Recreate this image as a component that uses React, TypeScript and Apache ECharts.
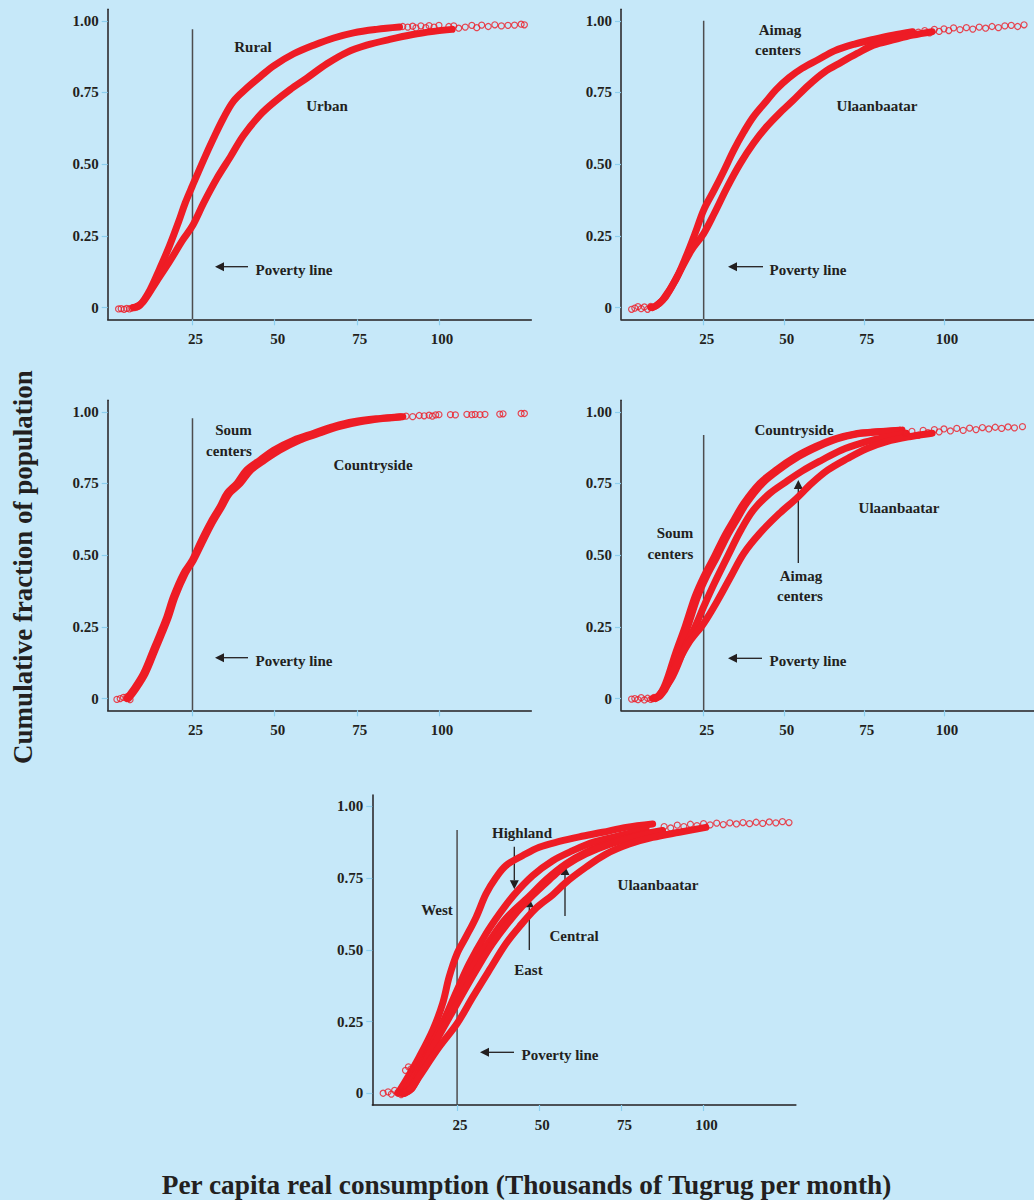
import React, { useEffect, useRef } from "react";
import * as echarts from "echarts";

// ---------- data ----------
const X_TICKS = [25, 50, 75, 100];
const Y_TICKS = [0, 0.25, 0.5, 0.75, 1];
const POVERTY_LINE = 25;
const POVERTY_TOPS = [0.97, 1.0, 0.977, 0.919, 0.918];

// Panel 1: Rural vs Urban
const P1_RURAL_X = [7, 9, 12, 15, 18, 20.8, 22.8, 25, 28.4, 31.4, 34.4, 37.5, 41.5, 45.6, 49.7, 55.8, 61.9, 68, 74, 81, 88];
const P1_RURAL_Y = [0, 0.008, 0.06, 0.135, 0.215, 0.3, 0.365, 0.425, 0.515, 0.59, 0.66, 0.72, 0.765, 0.805, 0.843, 0.885, 0.915, 0.94, 0.958, 0.97, 0.978];
const P1_URBAN_X = [8, 10, 14, 18, 22, 25, 28.4, 32.4, 36.5, 40.5, 45.6, 49.7, 54.7, 59.8, 65.9, 72, 78, 85, 92, 98.4, 104];
const P1_URBAN_Y = [0.003, 0.02, 0.09, 0.16, 0.235, 0.285, 0.365, 0.45, 0.525, 0.6, 0.672, 0.715, 0.76, 0.8, 0.85, 0.89, 0.915, 0.935, 0.952, 0.963, 0.97];
const P1_TAIL_X = [2.5, 3.3, 4.2, 5, 5.8, 6.5, 7.3, 8, 89, 90.5, 92, 93, 94.5, 96, 97, 98.5, 100, 103, 104.5, 106, 108, 110, 111.5, 113, 115, 117, 119, 121, 123, 125, 126];
const P1_TAIL_Y = [-0.005, -0.004, -0.006, -0.003, -0.005, -0.002, 0, 0.002, 0.98, 0.978, 0.981, 0.975, 0.982, 0.976, 0.983, 0.978, 0.984, 0.98, 0.982, 0.974, 0.978, 0.984, 0.976, 0.985, 0.98, 0.986, 0.982, 0.984, 0.985, 0.988, 0.986];

// Panel 2: Aimag centers vs Ulaanbaatar
const P2_AIMAG_X = [8.5, 10, 12.1, 16.2, 19.2, 22.3, 25, 28.3, 31.4, 34.4, 37.5, 40.5, 44.6, 47.6, 51.7, 55.7, 60.8, 65.8, 71.9, 78, 84.1, 90.2];
const P2_AIMAG_Y = [0, 0.005, 0.025, 0.095, 0.17, 0.258, 0.34, 0.41, 0.479, 0.549, 0.612, 0.665, 0.72, 0.76, 0.802, 0.834, 0.865, 0.895, 0.918, 0.935, 0.95, 0.962];
const P2_UB_X = [9, 10, 13.1, 17.2, 21.2, 25, 28.3, 32.4, 36.4, 40.5, 44.6, 48.6, 52.7, 57.7, 62.8, 67.9, 72.9, 78, 84.1, 90.2, 96.3];
const P2_UB_Y = [0, 0.005, 0.037, 0.118, 0.2, 0.258, 0.328, 0.421, 0.502, 0.572, 0.63, 0.677, 0.72, 0.775, 0.822, 0.855, 0.886, 0.915, 0.933, 0.95, 0.962];
const P2_TAIL_X = [2.5, 3.5, 4.5, 5.5, 6.5, 7.5, 8.5, 92, 94, 95.5, 97, 98.5, 100, 101.5, 103, 105, 107, 109, 111, 113, 115, 117, 119, 121, 123, 125];
const P2_TAIL_Y = [-0.006, -0.002, 0.003, -0.004, 0.002, -0.006, 0.004, 0.96, 0.966, 0.958, 0.97, 0.963, 0.972, 0.966, 0.975, 0.969, 0.976, 0.971, 0.978, 0.974, 0.98, 0.976, 0.982, 0.984, 0.98, 0.986];

// Panel 3: Soum centers vs Countryside
const P3_SOUM_X = [5, 7, 10.1, 13.1, 15.2, 17.2, 19.2, 22.3, 25, 27.3, 30.4, 33.4, 35.5, 38.5, 41.5, 45.6, 49.7, 55.8, 61.9, 67.9, 74, 82.2, 88.3];
const P3_SOUM_Y = [0, 0.03, 0.087, 0.169, 0.227, 0.285, 0.355, 0.436, 0.483, 0.541, 0.611, 0.669, 0.715, 0.75, 0.797, 0.832, 0.866, 0.901, 0.925, 0.948, 0.965, 0.977, 0.983];
const P3_COUNTRY_X = [5.5, 7.5, 10.6, 13.6, 15.7, 17.7, 19.7, 22.8, 25.3, 27.8, 30.9, 33.9, 36.2, 39.5, 42.8, 47, 51.5, 57.5, 63.5, 69.5, 76, 83.5, 89];
const P3_COUNTRY_Y = [0, 0.03, 0.087, 0.169, 0.227, 0.285, 0.355, 0.436, 0.483, 0.541, 0.611, 0.669, 0.715, 0.75, 0.797, 0.832, 0.866, 0.901, 0.925, 0.948, 0.965, 0.977, 0.983];
const P3_TAIL_X = [2, 3, 4, 5, 6, 90, 92, 94, 95.5, 97, 98, 99, 100, 103.5, 105, 108.5, 110, 111, 112.5, 114, 118.5, 119.5, 125, 126];
const P3_TAIL_Y = [-0.003, 0, 0.004, 0.006, -0.004, 0.985, 0.983, 0.987, 0.986, 0.988, 0.985, 0.989, 0.99, 0.99, 0.989, 0.991, 0.99, 0.991, 0.99, 0.991, 0.992, 0.993, 0.994, 0.994];

// Panel 4: Countryside, Soum centers, Aimag centers, Ulaanbaatar
const P4_COUNTRY_X = [9, 11, 13.1, 16.2, 19.2, 22.3, 25, 28.3, 31.4, 34.4, 37.5, 42.5, 47.6, 53.7, 59.8, 65.8, 71.9, 79, 86.1];
const P4_COUNTRY_Y = [0, 0.01, 0.052, 0.157, 0.25, 0.355, 0.424, 0.494, 0.564, 0.622, 0.68, 0.75, 0.797, 0.843, 0.878, 0.905, 0.922, 0.93, 0.936];
const P4_SOUM_X = [9.5, 11.5, 13.9, 17, 20, 23.1, 25.8, 29.1, 32.2, 35.2, 38.3, 43.3, 48.4, 54.5, 60.6, 66.6, 72.7, 79.8, 86.9];
const P4_SOUM_Y = [0, 0.01, 0.052, 0.157, 0.25, 0.355, 0.424, 0.494, 0.564, 0.622, 0.68, 0.75, 0.797, 0.843, 0.878, 0.905, 0.922, 0.93, 0.936];
const P4_AIMAG_X = [9.5, 11, 15.2, 19.2, 22.3, 25, 28.3, 32.4, 36.5, 40.5, 45.6, 50.6, 55.7, 61.8, 67.9, 74, 80.1, 88.2];
const P4_AIMAG_Y = [0, 0.01, 0.075, 0.18, 0.25, 0.32, 0.401, 0.494, 0.585, 0.657, 0.715, 0.755, 0.793, 0.831, 0.866, 0.89, 0.907, 0.925];
const P4_UB_X = [10, 12, 16.2, 20.2, 25, 29.4, 33.4, 37.5, 42.5, 48.6, 53.7, 58.7, 63.8, 69.9, 76, 82.1, 89.2, 96.3];
const P4_UB_Y = [0, 0.02, 0.11, 0.192, 0.262, 0.343, 0.424, 0.506, 0.576, 0.645, 0.695, 0.75, 0.797, 0.837, 0.872, 0.896, 0.913, 0.925];
const P4_TAIL_X = [2.5, 3.5, 4.5, 5.5, 6.5, 7.5, 8.5, 9.5, 88, 90, 92, 93.5, 95, 97, 98.5, 100, 102, 104, 106, 108, 110, 112, 114, 116, 118, 120, 122, 124.5];
const P4_TAIL_Y = [-0.002, 0, -0.004, 0.003, -0.005, 0.001, -0.003, 0.004, 0.925, 0.932, 0.918, 0.935, 0.927, 0.938, 0.93, 0.94, 0.933, 0.942, 0.935, 0.943, 0.938, 0.945, 0.94, 0.946, 0.942, 0.947, 0.944, 0.948];

// Panel 5: West, Highland, East, Central, Ulaanbaatar
const P5_WEST_X = [7, 9.5, 13.5, 17.6, 20.6, 22.6, 25, 27.7, 30.8, 33.8, 36.9, 39.9, 45, 50, 56.1, 62.2, 69.3, 76.4, 84.5];
const P5_WEST_Y = [0, 0.046, 0.127, 0.22, 0.313, 0.406, 0.487, 0.545, 0.614, 0.695, 0.753, 0.794, 0.829, 0.858, 0.878, 0.894, 0.91, 0.927, 0.939];
const P5_HIGHLAND_X = [8, 10, 13.5, 19.6, 25, 28.7, 33.8, 37.9, 42.2, 48, 54.1, 60.2, 66.3, 74.4, 82.5];
const P5_HIGHLAND_Y = [0, 0.02, 0.093, 0.22, 0.359, 0.452, 0.556, 0.626, 0.69, 0.759, 0.811, 0.846, 0.875, 0.898, 0.921];
const P5_EAST_X = [8.5, 11, 15.6, 21.6, 25, 29.8, 34.8, 39.9, 46.8, 52.1, 58.1, 64.2, 71.3, 79.4, 87.5];
const P5_EAST_Y = [0, 0.02, 0.127, 0.267, 0.336, 0.44, 0.53, 0.61, 0.685, 0.745, 0.8, 0.84, 0.872, 0.898, 0.916];
const P5_CENTRAL_X = [9, 11.5, 16.6, 25, 30.8, 35.8, 41.9, 48, 54.1, 58.1, 64.2, 71.3, 79.4, 87.5];
const P5_CENTRAL_Y = [0, 0.02, 0.139, 0.313, 0.429, 0.522, 0.614, 0.69, 0.755, 0.795, 0.835, 0.868, 0.895, 0.914];
const P5_UB_X = [9, 11, 13.5, 19.6, 25, 29.8, 34.8, 39.9, 43.9, 49, 54.1, 58.1, 64.2, 70.3, 77.4, 84.5, 92.6, 100.7];
const P5_UB_Y = [0, 0.015, 0.058, 0.162, 0.243, 0.336, 0.429, 0.522, 0.58, 0.645, 0.692, 0.735, 0.788, 0.834, 0.869, 0.892, 0.91, 0.927];
const P5_TAIL_X = [2.5, 4, 5, 6, 7, 8, 9, 9.3, 10.2, 11, 88, 90, 92, 94, 96, 98, 100, 102, 104, 106, 108, 110, 112, 114, 116, 118, 120, 122, 124, 126];
const P5_TAIL_Y = [0, 0.005, -0.003, 0.01, 0.003, -0.005, 0.005, 0.08, 0.092, 0.085, 0.93, 0.925, 0.935, 0.93, 0.938, 0.933, 0.94, 0.936, 0.942, 0.937, 0.943, 0.939, 0.944, 0.94, 0.945, 0.941, 0.946, 0.943, 0.947, 0.944];

const X_TITLE = "Per capita real consumption (Thousands of Tugrug per month)";
const Y_TITLE = "Cumulative fraction of population";

// ---------- styling / layout ----------
const BG = "#c6e8f9";
const RED = "#ee1c25";
const INK = "#231f20";
const TICK = "#8ccff0";
const FONT = '"Liberation Serif", "Times New Roman", serif';
const X_MIN = -0.8;
const X_MAX = 128.1;
const Y_MIN = -0.041;
const Y_MAX = 1.04;
const GRID_W = 423.6;
const GRID_H = 310;
const GRIDS = [
  { left: 107.7, top: 9.3 },
  { left: 621, top: 9.3 },
  { left: 107.7, top: 400.3 },
  { left: 621, top: 400.3 },
  { left: 372.3, top: 795 },
];

const zip = (xs: number[], ys: number[]) => xs.map((x, i) => [x, ys[i]]);

const band = (xs: number[], ys: number[], g: number) => ({
  type: "line",
  xAxisIndex: g,
  yAxisIndex: g,
  data: zip(xs, ys),
  showSymbol: false,
  smooth: 0.35,
  lineStyle: { color: RED, width: 7, cap: "round", join: "round" },
  silent: true,
  z: 3,
});

const dots = (xs: number[], ys: number[], g: number) => ({
  type: "scatter",
  xAxisIndex: g,
  yAxisIndex: g,
  data: zip(xs, ys),
  symbol: "circle",
  symbolSize: 6,
  itemStyle: { color: "rgba(0,0,0,0)", borderColor: RED, borderWidth: 1.2 },
  silent: true,
  z: 3,
});

const povertyLine = (g: number) => ({
  type: "line",
  xAxisIndex: g,
  yAxisIndex: g,
  data: [
    [POVERTY_LINE, Y_MIN],
    [POVERTY_LINE, POVERTY_TOPS[g]],
  ],
  showSymbol: false,
  lineStyle: { color: "#4d4d4f", width: 1.5 },
  silent: true,
  z: 2,
});

const textEl = (text: string, x: number, y: number, size = 15, rotation = 0) => ({
  type: "text",
  x,
  y,
  rotation,
  silent: true,
  style: {
    text,
    fill: INK,
    font: `bold ${size}px ${FONT}`,
    align: "center",
    verticalAlign: "middle",
    textAlign: "center",
    textVerticalAlign: "middle",
  },
});

const arrowEl = (x1: number, y1: number, x2: number, y2: number) => {
  const dx = x2 - x1;
  const dy = y2 - y1;
  const len = Math.hypot(dx, dy);
  const ux = dx / len;
  const uy = dy / len;
  const hl = 9;
  const hw = 4.5;
  const bx = x2 - ux * hl;
  const by = y2 - uy * hl;
  return [
    { type: "line", silent: true, shape: { x1, y1, x2: bx, y2: by }, style: { stroke: INK, lineWidth: 1.3 } },
    {
      type: "polygon",
      silent: true,
      shape: { points: [[x2, y2], [bx - uy * hw, by + ux * hw], [bx + uy * hw, by - ux * hw]] },
      style: { fill: INK },
    },
  ];
};

const LABELS: [string, number, number][] = [
  ["Rural", 253, 47],
  ["Urban", 327, 106],
  ["Poverty line", 294, 270],
  ["Aimag", 780, 30],
  ["centers", 778, 50],
  ["Ulaanbaatar", 877, 106],
  ["Poverty line", 808, 270],
  ["Soum", 233.5, 430],
  ["centers", 229, 451],
  ["Countryside", 373, 465],
  ["Poverty line", 294, 661],
  ["Countryside", 794, 430],
  ["Soum", 675, 533],
  ["centers", 670.5, 554],
  ["Ulaanbaatar", 899, 508],
  ["Aimag", 801, 576],
  ["centers", 800, 596],
  ["Poverty line", 808, 661],
  ["Highland", 522, 833],
  ["West", 437, 910],
  ["Ulaanbaatar", 658, 885],
  ["Central", 574, 936],
  ["East", 528.5, 970],
  ["Poverty line", 560, 1055],
];

const ARROWS: [number, number, number, number][] = [
  [248, 266.7, 215, 266.7],
  [763, 266.7, 728, 266.7],
  [248, 657.7, 215, 657.7],
  [762, 658.3, 728, 658.3],
  [798.3, 563, 798.3, 480],
  [514, 1052.3, 480, 1052.3],
  [514.3, 846.7, 514.3, 889.3],
  [529.3, 950, 529.3, 898.3],
  [565, 916, 565, 866],
];

function buildOption() {
  const labelStyle = { fontFamily: FONT, fontWeight: "bold", fontSize: 15, color: INK };
  const grid = GRIDS.map((g) => ({ left: g.left, top: g.top, width: GRID_W, height: GRID_H }));
  const xAxis = GRIDS.map((_, i) => ({
    gridIndex: i,
    type: "value",
    min: X_MIN,
    max: X_MAX,
    axisLine: { show: true, onZero: false, lineStyle: { color: INK, width: 1.5 } },
    axisTick: { show: true, customValues: X_TICKS, length: 6, lineStyle: { color: TICK, width: 1.2 } },
    axisLabel: { ...labelStyle, customValues: X_TICKS, margin: 12, padding: [0, 0, 0, 6] },
    splitLine: { show: false },
  }));
  const yAxis = GRIDS.map((_, i) => ({
    gridIndex: i,
    type: "value",
    min: Y_MIN,
    max: Y_MAX,
    axisLine: { show: true, onZero: false, lineStyle: { color: INK, width: 1.5 } },
    axisTick: { show: true, customValues: Y_TICKS, length: 6, lineStyle: { color: TICK, width: 1.2 } },
    axisLabel: {
      ...labelStyle,
      customValues: Y_TICKS,
      margin: 9,
      formatter: (v: number) => (v === 0 ? "0" : v.toFixed(2)),
    },
    splitLine: { show: false },
  }));

  const series: any[] = [
    ...[0, 1, 2, 3, 4].map(povertyLine),
    band(P1_RURAL_X, P1_RURAL_Y, 0),
    band(P1_URBAN_X, P1_URBAN_Y, 0),
    dots(P1_TAIL_X, P1_TAIL_Y, 0),
    band(P2_AIMAG_X, P2_AIMAG_Y, 1),
    band(P2_UB_X, P2_UB_Y, 1),
    dots(P2_TAIL_X, P2_TAIL_Y, 1),
    band(P3_SOUM_X, P3_SOUM_Y, 2),
    band(P3_COUNTRY_X, P3_COUNTRY_Y, 2),
    dots(P3_TAIL_X, P3_TAIL_Y, 2),
    band(P4_COUNTRY_X, P4_COUNTRY_Y, 3),
    band(P4_SOUM_X, P4_SOUM_Y, 3),
    band(P4_AIMAG_X, P4_AIMAG_Y, 3),
    band(P4_UB_X, P4_UB_Y, 3),
    dots(P4_TAIL_X, P4_TAIL_Y, 3),
    band(P5_WEST_X, P5_WEST_Y, 4),
    band(P5_HIGHLAND_X, P5_HIGHLAND_Y, 4),
    band(P5_EAST_X, P5_EAST_Y, 4),
    band(P5_CENTRAL_X, P5_CENTRAL_Y, 4),
    band(P5_UB_X, P5_UB_Y, 4),
    dots(P5_TAIL_X, P5_TAIL_Y, 4),
  ];

  const graphic: any[] = [
    ...LABELS.map(([t, x, y]) => textEl(t, x, y)),
    ...ARROWS.flatMap(([a, b, c, d]) => arrowEl(a, b, c, d)),
    textEl(X_TITLE, 526.5, 1185, 27.3),
    textEl(Y_TITLE, 23, 567, 27, Math.PI / 2),
  ];

  return {
    animation: false,
    backgroundColor: BG,
    grid,
    xAxis,
    yAxis,
    series,
    graphic,
  };
}

export default function App() {
  const ref = useRef<HTMLDivElement>(null);
  useEffect(() => {
    if (!ref.current) return;
    const chart = echarts.init(ref.current, undefined, { renderer: "svg" });
    chart.setOption(buildOption() as any);
    return () => chart.dispose();
  }, []);
  return (
    <div
      ref={ref}
      style={{ position: "absolute", left: 0, top: 0, width: 1034, height: 1200, background: BG }}
    />
  );
}
